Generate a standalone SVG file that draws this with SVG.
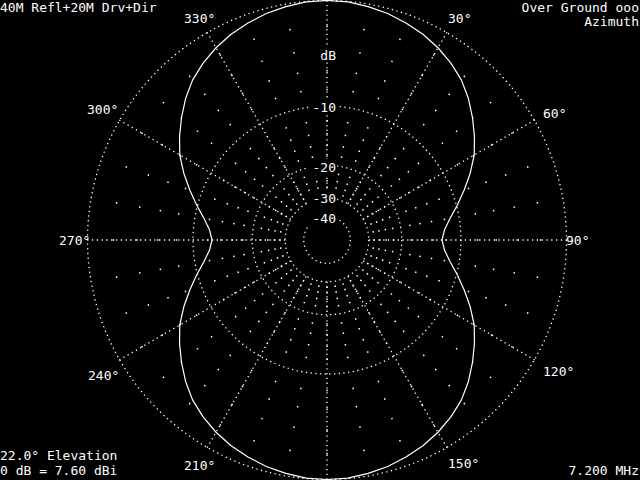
<svg xmlns="http://www.w3.org/2000/svg" width="640" height="480" viewBox="0 0 640 480">
<style>
.ring{fill:none;stroke:#fff;stroke-width:1.3;stroke-dasharray:1.3 3.4}
.spk{stroke:#fff;stroke-width:1.3;stroke-dasharray:1.3 3.5}
.tk{fill:none;stroke:#fff;stroke-width:1.5}
.pat{fill:none;stroke:#fff;stroke-width:1.2;stroke-linejoin:round}
text{font-family:"DejaVu Sans Mono","Liberation Mono",monospace;font-size:13px;fill:#fff}
.e{text-anchor:end}
</style>
<rect x="0" y="0" width="640" height="480" fill="#000"/>
<g id="grid">
<circle class="ring" cx="327" cy="240" r="239.5"/>
<circle class="ring" cx="327" cy="240" r="134"/>
<circle class="ring" cx="327" cy="240" r="74.8"/>
<circle class="ring" cx="327" cy="240" r="41.8"/>
<circle class="ring" cx="327" cy="240" r="23.3"/>
<g id="spokes">
<line class="spk" x1="327" y1="198.2" x2="327" y2="0"/>
<line class="spk" x1="347.9" y1="203.8" x2="447" y2="32.15"/>
<line class="spk" x1="363.2" y1="219.1" x2="534.85" y2="120"/>
<line class="spk" x1="368.8" y1="240" x2="567" y2="240"/>
<line class="spk" x1="363.2" y1="260.9" x2="534.85" y2="360"/>
<line class="spk" x1="347.9" y1="276.2" x2="447" y2="447.85"/>
<line class="spk" x1="327" y1="281.8" x2="327" y2="480"/>
<line class="spk" x1="306.1" y1="276.2" x2="207" y2="447.85"/>
<line class="spk" x1="290.8" y1="260.9" x2="119.15" y2="360"/>
<line class="spk" x1="285.2" y1="240" x2="87" y2="240"/>
<line class="spk" x1="290.8" y1="219.1" x2="119.15" y2="120"/>
<line class="spk" x1="306.1" y1="203.8" x2="207" y2="32.15"/>
</g>
<g id="ticks">
<circle class="tk" cx="327" cy="240" r="213.6" pathLength="360" stroke-dasharray="0.402 9.598" stroke-dashoffset="0.201"/>
<circle class="tk" cx="327" cy="240" r="190.1" pathLength="360" stroke-dasharray="0.452 9.548" stroke-dashoffset="0.226"/>
<circle class="tk" cx="327" cy="240" r="169.19" pathLength="360" stroke-dasharray="0.508 9.492" stroke-dashoffset="0.254"/>
<circle class="tk" cx="327" cy="240" r="150.58" pathLength="360" stroke-dasharray="0.571 9.429" stroke-dashoffset="0.285"/>
<circle class="tk" cx="327" cy="240" r="119.27" pathLength="360" stroke-dasharray="0.72 9.28" stroke-dashoffset="0.36"/>
<circle class="tk" cx="327" cy="240" r="106.15" pathLength="360" stroke-dasharray="0.81 9.19" stroke-dashoffset="0.405"/>
<circle class="tk" cx="327" cy="240" r="94.47" pathLength="360" stroke-dasharray="0.91 9.09" stroke-dashoffset="0.455"/>
<circle class="tk" cx="327" cy="240" r="84.08" pathLength="360" stroke-dasharray="1.022 8.978" stroke-dashoffset="0.511"/>
<circle class="tk" cx="327" cy="240" r="66.6" pathLength="360" stroke-dasharray="1.29 8.71" stroke-dashoffset="0.645"/>
<circle class="tk" cx="327" cy="240" r="59.27" pathLength="360" stroke-dasharray="1.45 8.55" stroke-dashoffset="0.725"/>
<circle class="tk" cx="327" cy="240" r="52.75" pathLength="360" stroke-dasharray="1.63 8.37" stroke-dashoffset="0.815"/>
<circle class="tk" cx="327" cy="240" r="46.95" pathLength="360" stroke-dasharray="1.83 8.17" stroke-dashoffset="0.915"/>
</g>
</g>
<g id="pattern">
<polygon class="pat" points="327,0.5 306.17,1.91 285.84,6.6 266.31,13.49 247.99,22.93 231.07,34.27 216,47.74 203.11,63.06 192.66,79.9 185.58,98.58 181.45,117.87 179.55,136.76 179.77,155 183.8,173.23 189.81,190.07 196.6,205.06 203.9,218.29 209.45,229.72 212,240 209.45,250.28 203.9,261.71 196.6,274.94 189.81,289.93 183.8,306.77 179.77,325 179.55,343.24 181.45,362.13 185.58,381.42 192.66,400.1 203.11,416.94 216,432.26 231.07,445.73 247.99,457.07 266.31,466.51 285.84,473.4 306.17,478.09 327,479.5 347.83,478.09 368.16,473.4 387.69,466.51 406.01,457.07 422.93,445.73 438,432.26 450.89,416.94 461.34,400.1 468.42,381.42 472.55,362.13 474.45,343.24 474.23,325 470.2,306.77 464.19,289.93 457.4,274.94 450.1,261.71 444.55,250.28 442,240 444.55,229.72 450.1,218.29 457.4,205.06 464.19,190.07 470.2,173.23 474.23,155 474.45,136.76 472.55,117.87 468.42,98.58 461.34,79.9 450.89,63.06 438,47.74 422.93,34.27 406.01,22.93 387.69,13.49 368.16,6.6 347.83,1.91"/>
</g>
<g id="scale-labels">
<rect x="317" y="46" width="20" height="16" fill="#000"/>
<rect x="309" y="99" width="28" height="16" fill="#000"/>
<rect x="309" y="159" width="28" height="16" fill="#000"/>
<rect x="309" y="191" width="28" height="16" fill="#000"/>
<rect x="309" y="210" width="28" height="16" fill="#000"/>
<text class="e" x="336" y="60">dB</text>
<text class="e" x="336" y="112">-10</text>
<text class="e" x="336" y="172">-20</text>
<text class="e" x="336" y="203">-30</text>
<text class="e" x="336" y="223">-40</text>
</g>
<g id="angle-labels">
<text x="184" y="23">330°</text>
<text x="448" y="23">30°</text>
<text x="87" y="114">300°</text>
<text x="543" y="118">60°</text>
<text x="59" y="245">270°</text>
<text x="566" y="245">90°</text>
<text x="88" y="380">240°</text>
<text x="543" y="376">120°</text>
<text x="184" y="470">210°</text>
<text x="448" y="468">150°</text>
</g>
<g id="info">
<text x="0" y="12">40M Refl+20M Drv+Dir</text>
<text class="e" x="639" y="12">Over Ground ooo</text>
<text class="e" x="639" y="26">Azimuth</text>
<text x="0" y="460">22.0° Elevation</text>
<text x="0" y="475">0 dB = 7.60 dBi</text>
<text class="e" x="639" y="475">7.200 MHz</text>
</g>
</svg>
